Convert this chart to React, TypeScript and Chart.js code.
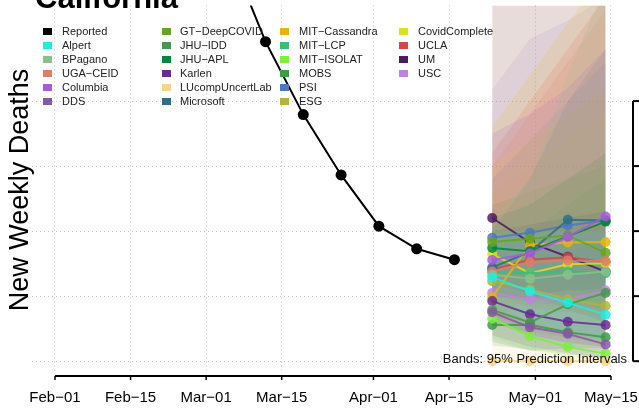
import React, { useEffect, useRef } from 'react';
import { Chart, registerables } from 'chart.js';

Chart.register(...registerables);

const FONT = "'Liberation Sans', Arial, Helvetica, sans-serif";

// ---------- axis ticks ----------
const xTickDays = [0, 14, 28, 42, 59, 73, 89, 103]; // days since Feb-01
const xTickLabels = ['Feb\u221201', 'Feb\u221215', 'Mar\u221201', 'Mar\u221215', 'Apr\u221201', 'Apr\u221215', 'May\u221201', 'May\u221215'];
const yTickValues = [0, 500, 1000, 1500, 2000];

// ---------- reported ----------
const reportedDays = [4, 11, 18, 25, 32, 39, 46, 53, 60, 67, 74];
const reportedValues = [4700, 4400, 4000, 3600, 3173, 2457, 1896, 1432, 1038, 864, 780];

// ---------- forecasts ----------
const forecastDays = [81, 88, 95, 102];

const modelNames = [
  'Alpert', 'BPagano', 'UGA\u2212CEID', 'Columbia', 'DDS',
  'GT\u2212DeepCOVID', 'JHU\u2212IDD', 'JHU\u2212APL', 'Karlen', 'LUcompUncertLab', 'Microsoft',
  'MIT\u2212Cassandra', 'MIT\u2212LCP', 'MIT\u2212ISOLAT', 'MOBS', 'PSI', 'ESG',
  'CovidComplete', 'UCLA', 'UM', 'USC',
];
const modelColors = [
  '#20EDE0', '#8CBF8C', '#DC7F68', '#A65CD9', '#8856A7',
  '#66A61E', '#45994C', '#00873F', '#6A2C91', '#F7D48A', '#2B6E8C',
  '#E6B50A', '#3CBD79', '#7DEE40', '#3E9B48', '#4D78BE', '#B3B43A',
  '#DFE01A', '#D94343', '#4D1A5E', '#BD85DF',
];

// point forecasts (model order as above)
const medians = [
  [644, 538, 449, 356],   // Alpert
  [664, 634, 664, 689],   // BPagano
  [690, 760, 775, 770],   // UGA-CEID
  [778, 828, 955, 1113],  // Columbia
  [376, 260, 210, 129],   // DDS
  [917, 942, 967, 833],   // GT-DeepCOVID
  [394, 298, 437, 525],   // JHU-IDD
  [871, 846, 960, 1073],  // JHU-APL
  [462, 361, 303, 278],   // Karlen
  [0, 0, 0, 0],           // LUcompUncertLab
  [720, 841, 1088, 1081], // Microsoft
  [492, 896, 912, 917],   // MIT-Cassandra
  [689, 677, 689, 677],   // MIT-LCP
  [328, 192, 109, 58],    // MIT-ISOLAT
  [278, 280, 222, 184],   // MOBS
  [949, 987, 1043, 1081], // PSI
  [614, 551, 475, 424],   // ESG
  [823, 677, 745, 752],   // CovidComplete
  [705, 780, 800, 760],   // UCLA
  [1101, 912, 803, 689],  // UM
  [525, 475, 475, 543],   // USC
];

// 95% interval lower bounds
const lowers = [
  [420, 300, 220, 150],
  [380, 300, 250, 200],
  [450, 420, 380, 330],
  [500, 480, 500, 520],
  [200, 110, 60, 20],
  [620, 560, 500, 380],
  [150, 80, 100, 100],
  [600, 520, 540, 560],
  [300, 200, 140, 110],
  [0, 0, 0, 0],
  [500, 480, 560, 500],
  [300, 500, 450, 400],
  [500, 450, 430, 400],
  [180, 80, 30, 10],
  [120, 90, 50, 30],
  [700, 650, 620, 600],
  [350, 250, 180, 130],
  [550, 400, 380, 350],
  [500, 480, 450, 400],
  [700, 500, 400, 300],
  [300, 220, 180, 180],
];

// 95% interval upper bounds
const uppers = [
  [1000, 1000, 1000, 1000],
  [1100, 1400, 2200, 2900],
  [1500, 1900, 2300, 2700],
  [1750, 1900, 2100, 2400],
  [900, 900, 950, 1000],
  [1200, 1300, 1400, 1500],
  [900, 1000, 1200, 1400],
  [1100, 1200, 1400, 1600],
  [1000, 1050, 1100, 1150],
  [3000, 3200, 3400, 3600],
  [1000, 1400, 2000, 2400],
  [1800, 2200, 2600, 3000],
  [1000, 1050, 1100, 1150],
  [800, 750, 700, 650],
  [700, 800, 850, 900],
  [1400, 1700, 2000, 2300],
  [1300, 1500, 1700, 1900],
  [1500, 1700, 1900, 2100],
  [1600, 2000, 2400, 2800],
  [2900, 3300, 3700, 4000],
  [2090, 2480, 2620, 2800],
];

// legend order (column-major, 6 rows)
const legendNames = ['Reported', ...modelNames];
const legendColors = ['#000000', ...modelColors];

// ---------- layout constants ----------
const W = 639;
const H = 409;
const X_MIN = -4.26;
const X_MAX = 107.08;
const Y_MIN = -83.3;
const Y_MAX = 2735;
const BAND_ALPHA = 0.15;

function rgba(hex: string, a: number) {
  const n = parseInt(hex.slice(1), 16);
  return `rgba(${(n >> 16) & 255},${(n >> 8) & 255},${n & 255},${a})`;
}

const pts = (xs: number[], ys: number[]) => xs.map((x, i) => ({ x, y: ys[i] }));

const decorPlugin = {
  id: 'decor',
  afterDraw(chart: any) {
    const ctx = chart.ctx as CanvasRenderingContext2D;
    const xs = chart.scales.x;
    const ys = chart.scales.y;
    ctx.save();

    // title (clipped at top)
    ctx.fillStyle = '#000';
    ctx.font = `bold 31px ${FONT}`;
    ctx.textAlign = 'left';
    ctx.textBaseline = 'alphabetic';
    ctx.fillText('California', 35, 8);

    // y label
    ctx.save();
    ctx.translate(28, 190);
    ctx.rotate(-Math.PI / 2);
    ctx.font = `27px ${FONT}`;
    ctx.textAlign = 'center';
    ctx.fillText('New Weekly Deaths', 0, 0);
    ctx.restore();

    // x axis
    const x0 = xs.getPixelForValue(xTickDays[0]);
    const x1 = xs.getPixelForValue(xTickDays[xTickDays.length - 1]);
    const axY = 376;
    ctx.strokeStyle = '#000';
    ctx.lineWidth = 2;
    ctx.beginPath();
    ctx.moveTo(x0, axY);
    ctx.lineTo(x1, axY);
    ctx.stroke();
    ctx.lineWidth = 1.5;
    ctx.font = `15px ${FONT}`;
    ctx.textAlign = 'center';
    ctx.textBaseline = 'middle';
    xTickDays.forEach((d, i) => {
      const px = xs.getPixelForValue(d);
      ctx.beginPath();
      ctx.moveTo(px, axY);
      ctx.lineTo(px, axY + 4);
      ctx.stroke();
      ctx.fillText(xTickLabels[i], px, 398);
    });

    // right y axis (labels fall outside the picture)
    const rx = 633;
    const yTop = ys.getPixelForValue(yTickValues[yTickValues.length - 1]);
    const yBot = ys.getPixelForValue(yTickValues[0]);
    ctx.lineWidth = 2;
    ctx.beginPath();
    ctx.moveTo(rx, yTop);
    ctx.lineTo(rx, yBot);
    ctx.stroke();
    yTickValues.forEach((v) => {
      const py = ys.getPixelForValue(v);
      ctx.beginPath();
      ctx.moveTo(rx, py);
      ctx.lineTo(rx + 8, py);
      ctx.stroke();
    });

    // bands note
    ctx.font = `13px ${FONT}`;
    ctx.textAlign = 'right';
    ctx.textBaseline = 'middle';
    ctx.fillStyle = '#111';
    ctx.fillText('Bands: 95% Prediction Intervals', 627, 359);

    // legend
    const colSq = [43, 162, 280, 399];
    const colTx = [62, 180, 299, 418];
    ctx.font = `11px ${FONT}`;
    ctx.textAlign = 'left';
    ctx.textBaseline = 'middle';
    legendNames.forEach((name, i) => {
      const c = Math.floor(i / 6);
      const r = i % 6;
      const cy = 31.5 + r * 14;
      ctx.fillStyle = legendColors[i];
      ctx.fillRect(colSq[c], cy - 3.5, 9, 7);
      ctx.fillStyle = '#222';
      ctx.fillText(name, colTx[c], cy + 0.5);
    });

    ctx.restore();
  },
};

export default function App() {
  const ref = useRef<HTMLCanvasElement | null>(null);

  useEffect(() => {
    if (!ref.current) return;
    const datasets: any[] = [];

    // bands
    modelNames.forEach((name, i) => {
      datasets.push({
        label: name + ' upper',
        data: pts(forecastDays, uppers[i]),
        borderColor: 'rgba(0,0,0,0)',
        borderWidth: 0,
        pointRadius: 0,
        backgroundColor: rgba(modelColors[i], BAND_ALPHA),
        fill: '+1',
        order: 100,
        tension: 0,
      });
      datasets.push({
        label: name + ' lower',
        data: pts(forecastDays, lowers[i]),
        borderColor: 'rgba(0,0,0,0)',
        borderWidth: 0,
        pointRadius: 0,
        fill: false,
        order: 100,
        tension: 0,
      });
    });

    // forecast lines
    modelNames.forEach((name, i) => {
      datasets.push({
        label: name,
        data: pts(forecastDays, medians[i]),
        borderColor: rgba(modelColors[i], 0.85),
        backgroundColor: rgba(modelColors[i], 0.85),
        borderWidth: 2,
        pointRadius: 5,
        pointBorderWidth: 0,
        fill: false,
        order: 10,
        tension: 0,
      });
    });

    // reported
    datasets.push({
      label: 'Reported',
      data: pts(reportedDays, reportedValues),
      borderColor: '#000',
      backgroundColor: '#000',
      borderWidth: 2,
      pointRadius: 5.5,
      pointBorderWidth: 0,
      fill: false,
      order: 0,
      tension: 0,
    });

    const chart = new Chart(ref.current, {
      type: 'line',
      data: { datasets },
      options: {
        animation: false,
        responsive: false,
        devicePixelRatio: 1,
        events: [],
        layout: { padding: { left: 32, right: 6, top: 0, bottom: 37 } },
        plugins: { legend: { display: false }, tooltip: { enabled: false } },
        scales: {
          x: {
            type: 'linear',
            min: X_MIN,
            max: X_MAX,
            afterBuildTicks: (s: any) => {
              s.ticks = xTickDays.map((v) => ({ value: v }));
            },
            ticks: { display: false },
            grid: { color: '#c4c4c4', lineWidth: 1, drawTicks: false },
            border: { display: false, dash: [1, 3] },
          },
          y: {
            type: 'linear',
            position: 'right',
            min: Y_MIN,
            max: Y_MAX,
            afterBuildTicks: (s: any) => {
              s.ticks = yTickValues.map((v) => ({ value: v }));
            },
            ticks: { display: false },
            grid: { color: '#c4c4c4', lineWidth: 1, drawTicks: false },
            border: { display: false, dash: [1, 3] },
          },
        },
      } as any,
      plugins: [decorPlugin],
    });
    return () => chart.destroy();
  }, []);

  return (
    <div style={{ position: 'fixed', left: 0, top: 0, width: W, height: H, background: '#fff' }}>
      <canvas ref={ref} width={W} height={H} style={{ width: W, height: H, display: 'block' }} />
    </div>
  );
}
